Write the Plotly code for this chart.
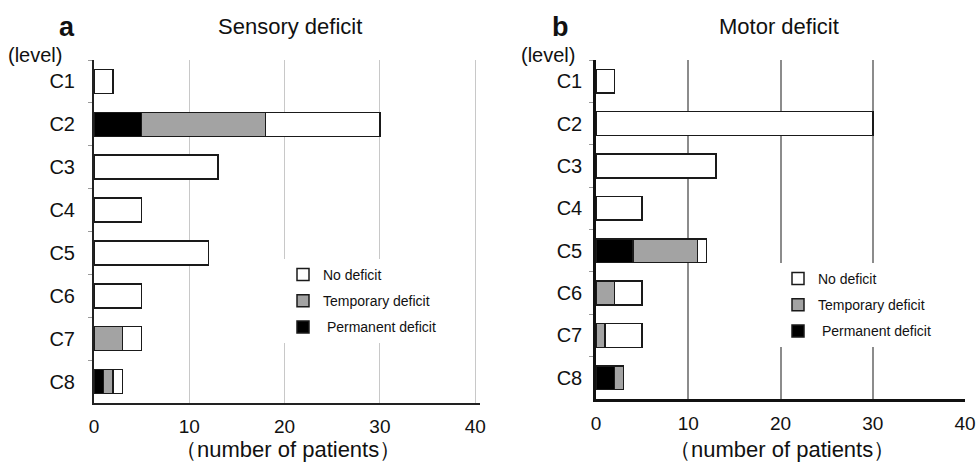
import plotly.graph_objects as go

levels = ["C1", "C2", "C3", "C4", "C5", "C6", "C7", "C8"]

# Sensory deficit (panel a)
sens_permanent = [0, 5, 0, 0, 0, 0, 0, 1]
sens_temporary = [0, 13, 0, 0, 0, 0, 3, 1]
sens_none = [2, 12, 13, 5, 12, 5, 2, 1]

# Motor deficit (panel b)
mot_permanent = [0, 0, 0, 0, 4, 0, 0, 2]
mot_temporary = [0, 0, 0, 0, 7, 2, 1, 1]
mot_none = [2, 30, 13, 5, 1, 3, 4, 0]

x_ticks = [0, 10, 20, 30, 40]

series_names = ["\u00a0Permanent deficit", "Temporary deficit", "No deficit"]
series_colors = ["#000000", "#a3a3a3", "#ffffff"]
series_rank = [3, 2, 1]

W, H = 976, 467
def px_x(p):
    return p / W
def px_y(p):
    return 1 - p / H

FONT = "Liberation Sans, Arial, sans-serif"
NARROW = "Liberation Sans Narrow, Arial Narrow, Liberation Sans, Arial, sans-serif"

fig = go.Figure()

panels = [
    ("x", "y", "legend", [sens_permanent, sens_temporary, sens_none]),
    ("x2", "y2", "legend2", [mot_permanent, mot_temporary, mot_none]),
]
for xa, ya, lg, data in panels:
    for name, color, rank, vals in zip(series_names, series_colors, series_rank, data):
        fig.add_trace(go.Bar(
            y=levels, x=vals, orientation="h", name=name,
            marker=dict(color=color, line=dict(color="#1a1a1a", width=1.5)),
            width=0.56, xaxis=xa, yaxis=ya, legend=lg, legendrank=rank,
            legendgroup=lg + name, showlegend=True,
        ))

common_y = dict(
    type="category", categoryorder="array", categoryarray=levels,
    autorange="reversed", showline=True, showgrid=False, zeroline=False,
    ticks="outside", tickson="boundaries", ticklen=4, tickcolor="#9a9a9a",
    automargin=False,
)

fig.update_layout(
    width=W, height=H, margin=dict(l=0, r=0, t=0, b=0, autoexpand=False),
    paper_bgcolor="white", plot_bgcolor="white",
    barmode="stack", bargap=0.44,
    font=dict(family=FONT, color="#111111"),
    xaxis=dict(domain=[px_x(94), px_x(480)], range=[0, 40.5], anchor="y",
               tickvals=x_ticks, showgrid=True, gridcolor="#c8c8c8", gridwidth=1,
               zeroline=False, showline=True, linecolor="#222222", linewidth=2,
               automargin=False,
               ticks="", tickfont=dict(size=19, family=FONT), ticklabelstandoff=5),
    yaxis=dict(domain=[px_y(403), px_y(60)], anchor="x",
               linecolor="#222222", linewidth=2,
               tickfont=dict(size=20, family=FONT), ticklabelstandoff=13, **common_y),
    xaxis2=dict(domain=[px_x(596), px_x(965)], range=[0, 40], anchor="y2",
                tickvals=x_ticks, showgrid=True, gridcolor="#8c8c8c", gridwidth=1.5,
                zeroline=False, showline=True, linecolor="#111111", linewidth=2.5,
                automargin=False,
                ticks="", tickfont=dict(size=19, family=NARROW), ticklabelstandoff=5),
    yaxis2=dict(domain=[px_y(399), px_y(60)], anchor="x2",
                linecolor="#111111", linewidth=2.5,
                tickfont=dict(size=20, family=NARROW), ticklabelstandoff=7, **common_y),
    legend=dict(x=px_x(283), y=px_y(259), xanchor="left", yanchor="top",
                bgcolor="white", borderwidth=0, traceorder="grouped",
                tracegroupgap=5, font=dict(size=14, family=FONT)),
    legend2=dict(x=px_x(778), y=px_y(263), xanchor="left", yanchor="top",
                 bgcolor="white", borderwidth=0, traceorder="grouped",
                 tracegroupgap=5, font=dict(size=14, family=FONT)),
)

annotations = [
    dict(text="<b>a</b>", x=px_x(66.5), y=px_y(27), size=27),
    dict(text="Sensory deficit", x=px_x(290), y=px_y(27), size=22),
    dict(text="(level)", x=px_x(35), y=px_y(55), size=20),
    dict(text="（number of patients）", x=px_x(288), y=px_y(449), size=22),
    dict(text="<b>b</b>", x=px_x(560), y=px_y(27), size=27),
    dict(text="Motor deficit", x=px_x(778.5), y=px_y(27), size=22),
    dict(text="(level)", x=px_x(547.5), y=px_y(55), size=20),
    dict(text="（number of patients）", x=px_x(782), y=px_y(449), size=22),
]
for a in annotations:
    fig.add_annotation(text=a["text"], x=a["x"], y=a["y"], xref="paper", yref="paper",
                       xanchor="center", yanchor="middle", showarrow=False,
                       font=dict(size=a["size"], family=FONT, color="#111111"))

fig.write_html("out.html", config={"displayModeBar": False},
               post_script="document.body.style.margin='0';")
